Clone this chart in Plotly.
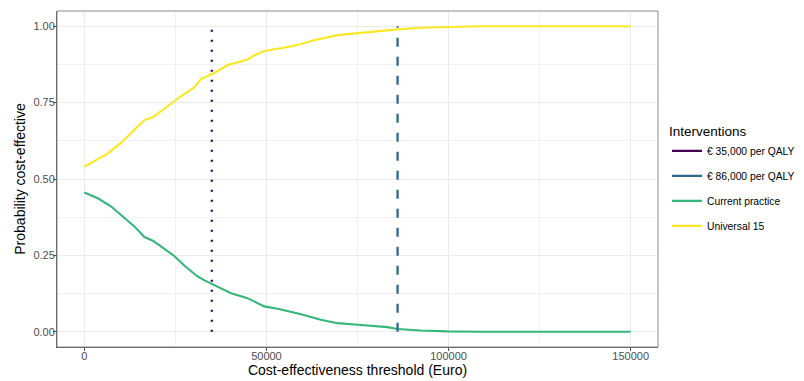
import plotly.graph_objects as go

# Cost-effectiveness acceptability curves
universal_x = [0, 2800, 6500, 10100, 13800, 16500, 18800, 22000, 24700, 27000, 30200, 32000,
               35700, 39400, 44800, 46700, 49400, 53100, 56700, 59500, 63100, 69500, 75000,
               81400, 86000, 92300, 99600, 108800, 150000]
universal_y = [0.540, 0.560, 0.584, 0.619, 0.660, 0.693, 0.702, 0.731, 0.753, 0.775, 0.800, 0.827,
               0.847, 0.873, 0.891, 0.905, 0.919, 0.926, 0.934, 0.942, 0.954, 0.971, 0.978,
               0.984, 0.990, 0.995, 0.998, 1.000, 1.000]

current_x = [0, 3700, 7400, 10100, 13800, 16500, 18800, 22000, 24700, 27500, 31100, 33000,
             36600, 40300, 44800, 49400, 53100, 59500, 64900, 69500, 76800, 83200, 86000,
             92300, 99600, 108800, 150000]
current_y = [0.456, 0.437, 0.410, 0.382, 0.344, 0.310, 0.298, 0.271, 0.248, 0.216, 0.181, 0.168,
             0.148, 0.126, 0.110, 0.083, 0.075, 0.057, 0.039, 0.028, 0.021, 0.015, 0.009,
             0.004, 0.001, 0.000, 0.000]

thresholds = [35000, 86000]
threshold_names = ["€ 35,000 per QALY", "€ 86,000 per QALY"]
series_names = ["Current practice", "Universal 15"]

x_ticks = [0, 50000, 100000, 150000]
y_ticks = [0.0, 0.25, 0.5, 0.75, 1.0]
y_tick_labels = ["0.00", "0.25", "0.50", "0.75", "1.00"]

colors = {"€ 35,000 per QALY": "#440154", "€ 86,000 per QALY": "#31688E",
          "Current practice": "#35B779", "Universal 15": "#FDE725"}
dashes = {"€ 35,000 per QALY": "2px,8px", "€ 86,000 per QALY": "9px,10px"}

FONT = "Liberation Sans, Arial, sans-serif"

fig = go.Figure()

# curves
fig.add_trace(go.Scatter(x=current_x, y=current_y, mode="lines", showlegend=False,
                         line=dict(color=colors["Current practice"], width=2.1)))
fig.add_trace(go.Scatter(x=universal_x, y=universal_y, mode="lines", showlegend=False,
                         line=dict(color=colors["Universal 15"], width=2.1)))

# threshold lines
for t, name in zip(thresholds, threshold_names):
    fig.add_trace(go.Scatter(x=[t, t], y=[0, 1], mode="lines", showlegend=False,
                             line=dict(color=colors[name], width=2.3, dash=dashes[name])))

# legend entries (solid keys as in the reference)
for i, name in enumerate(threshold_names + series_names):
    fig.add_trace(go.Scatter(x=[None], y=[None], mode="lines", name=name,
                             legendgroup=str(i),
                             line=dict(color=colors[name], width=2.2)))

# lighter panel border (top/right)
fig.add_shape(type="rect", xref="x domain", yref="y domain", x0=0, x1=1, y0=0, y1=1,
              line=dict(color="#8c8c8c", width=1), layer="above")

# the page adds an 8px body margin, so the figure is 796x373 and sits at (8, 8)
fig.update_layout(
    width=796, height=373,
    margin=dict(l=49, r=0, t=3, b=34, autoexpand=False),
    paper_bgcolor="white", plot_bgcolor="white",
    font=dict(family=FONT, size=11, color="#4D4D4D"),
    legend=dict(
        title=dict(text="Interventions", font=dict(size=13.5, color="black", family=FONT)),
        x=0.8166, xanchor="left", y=0.679, yanchor="top",
        font=dict(size=10.3, color="black", family=FONT),
        tracegroupgap=6, itemwidth=30, bgcolor="rgba(0,0,0,0)",
    ),
    xaxis=dict(
        domain=[0, 601 / 747], automargin=False,
        range=[-7500, 157500], tickvals=x_ticks, ticktext=[str(v) for v in x_ticks],
        showgrid=True, gridcolor="#EBEBEB", gridwidth=1,
        minor=dict(tickvals=[25000, 75000, 125000], showgrid=True, gridcolor="#F2F2F2", gridwidth=0.6),
        zeroline=False, showline=True, linecolor="#4d4d4d", linewidth=1,
        ticks="outside", ticklen=3, tickcolor="#4d4d4d", tickfont=dict(size=11, color="#4D4D4D"),
        ticklabelstandoff=-4,
        title=dict(text="Cost-effectiveness threshold (Euro)", font=dict(size=14, color="black"),
                   standoff=2),
    ),
    yaxis=dict(
        automargin=False,
        range=[-0.05, 1.05], tickvals=y_ticks, ticktext=y_tick_labels,
        showgrid=True, gridcolor="#EBEBEB", gridwidth=1,
        minor=dict(tickvals=[0.125, 0.375, 0.625, 0.875], showgrid=True, gridcolor="#F2F2F2", gridwidth=0.6),
        zeroline=False, showline=True, linecolor="#4d4d4d", linewidth=1,
        ticks="outside", ticklen=3, tickcolor="#4d4d4d", tickfont=dict(size=11, color="#4D4D4D"),
        ticklabelstandoff=-4,
        title=dict(text="Probability cost-effective", font=dict(size=14, color="black"),
                   standoff=4),
    ),
)

fig.write_html("out.html")
